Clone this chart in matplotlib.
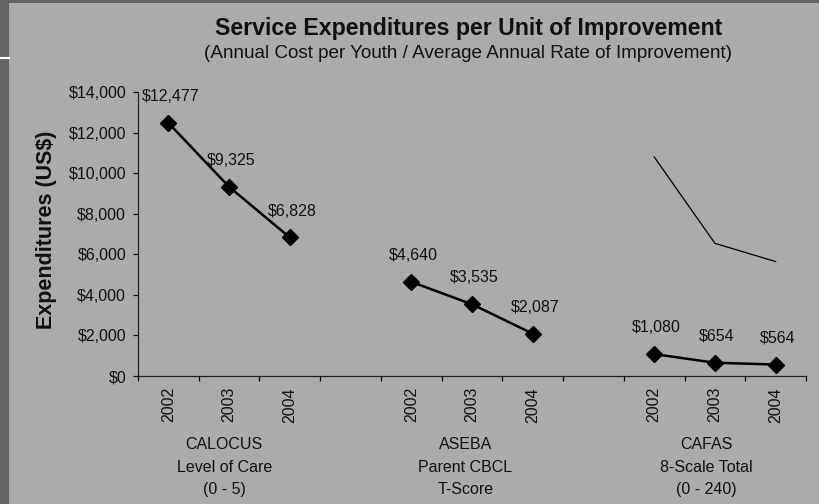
"""
plot.py
-------
Service expenditures per unit of improvement, by outcome measure and year.
Saves out.png (820x504).
"""

import matplotlib
matplotlib.use("Agg")
import matplotlib.pyplot as plt
from matplotlib.patches import Rectangle
from matplotlib.lines import Line2D
from matplotlib.ticker import FixedLocator, FuncFormatter
import matplotlib.transforms as mtransforms

# ── Data ───────────────────────────────────────────────────────────────────────
years       = ["2002", "2003", "2004"]
group_names = [
    "CALOCUS\nLevel of Care\n(0 - 5)",
    "ASEBA\nParent CBCL\nT-Score",
    "CAFAS\n8-Scale Total\n(0 - 240)",
]
calocus   = [12477, 9325, 6828]
aseba     = [4640, 3535, 2087]
cafas     = [1080, 654, 564]
cafas_ref = [10800, 6540, 5640]   # thin unlabelled line over the CAFAS group

y_ticks = [0, 2000, 4000, 6000, 8000, 10000, 12000, 14000]

# ── Style ──────────────────────────────────────────────────────────────────────
plt.rcParams["font.family"] = ["Liberation Sans", "DejaVu Sans"]
PANEL  = "#ababab"
EDGE   = "#636363"
INK    = "#111111"

fig = plt.figure(figsize=(8.2, 5.04), dpi=100, facecolor=EDGE)

# slide panel + the little white rule peeking out on the left
fig.patches.append(Rectangle((9 / 820, 0), 1, 1 - 3 / 504, transform=fig.transFigure,
                             facecolor=PANEL, edgecolor="none", zorder=-2))
fig.lines.append(Line2D([0, 9 / 820], [1 - 58 / 504] * 2, transform=fig.transFigure,
                        color="white", lw=1.5, zorder=-1))

ax = fig.add_axes([138 / 820, 1 - 376 / 504, 668 / 820, 284 / 504])
ax.set_facecolor("none")
ax.set_zorder(2)

# ── Series ─────────────────────────────────────────────────────────────────────
# each group takes 3 slots plus one empty slot as a gap
series = [calocus, aseba, cafas]
for g, vals in enumerate(series):
    xs = [4 * g + i for i in range(len(vals))]
    ax.plot(xs, vals, color="black", lw=1.8, marker="D", ms=8,
            mfc="black", mec="black", zorder=3)
    for x, v in zip(xs, vals):
        ax.annotate(f"${v:,}", (x, v), xytext=(1.5, 19), textcoords="offset points",
                    ha="center", va="center", fontsize=11.5, color=INK)

ax.plot([8, 9, 10], cafas_ref, color="black", lw=0.9, zorder=2)

# ── Axes ───────────────────────────────────────────────────────────────────────
n_slots = 4 * len(series) - 1
ax.set_xlim(-0.5, n_slots - 0.5)
ax.set_ylim(0, 14000)

ax.set_yticks(y_ticks)
ax.yaxis.set_major_formatter(FuncFormatter(lambda v, _: f"${v:,.0f}"))
ax.tick_params(axis="y", direction="out", length=3.5, width=0.9, pad=5,
               labelsize=11.5, colors=INK)

# tick marks on slot boundaries, year labels at slot centres
ax.xaxis.set_major_locator(FixedLocator([i - 0.5 for i in range(n_slots + 1)]))
ax.xaxis.set_major_formatter(FuncFormatter(lambda v, _: ""))
centres, labels = [], []
for g in range(len(series)):
    for i, yr in enumerate(years):
        centres.append(4 * g + i)
        labels.append(yr)
ax.xaxis.set_minor_locator(FixedLocator(centres))
ax.set_xticklabels(labels, minor=True, rotation=90, fontsize=11.5)
ax.tick_params(axis="x", which="major", direction="out", length=3.5, width=0.9)
ax.tick_params(axis="x", which="minor", length=0, pad=8, colors=INK)

for side in ["top", "right"]:
    ax.spines[side].set_visible(False)
for side in ["left", "bottom"]:
    ax.spines[side].set_color("#222222")
    ax.spines[side].set_linewidth(0.9)

# group captions under the years
trans = mtransforms.blended_transform_factory(ax.transData, ax.transAxes)
for g, name in enumerate(group_names):
    ax.text(4 * g + 1 - 0.08 - 0.03 * g, -0.321, name, transform=trans,
            ha="center", va="center", fontsize=11.5, color=INK, linespacing=1.6)

# ── Titles ─────────────────────────────────────────────────────────────────────
fig.text(469 / 820, 1 - 28 / 504, "Service Expenditures per Unit of Improvement",
         ha="center", va="center", fontsize=16.7, fontweight="bold", color=INK)
fig.text(468 / 820, 1 - 53 / 504,
         "(Annual Cost per Youth / Average Annual Rate of Improvement)",
         ha="center", va="center", fontsize=13.6, color=INK)
fig.text(47 / 820, 1 - 230 / 504, "Expenditures (US$)", rotation=90,
         ha="center", va="center", fontsize=15.5, fontweight="bold", color=INK)

fig.savefig("out.png", dpi=100, facecolor=fig.get_facecolor())
